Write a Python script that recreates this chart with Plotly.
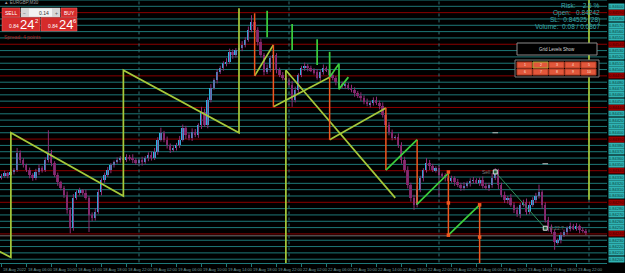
import plotly.graph_objects as go

# ---------------- data (prices in points, 1 point = 0.00001) ----------------
PT = 1e-5
first_open_pts = 84330
closes_pts = [
    84332, 84336, 84333, 84338, 84341, 84368, 84357, 84349, 84341, 84333,
    84328, 84338, 84344, 84341, 84357, 84368, 84352, 84333, 84322, 84313,
    84302, 84278, 84249, 84297, 84306, 84309, 84305, 84297, 84270, 84265,
    84275, 84306, 84325, 84333, 84341, 84349, 84354, 84357, 84360, 84357,
    84362, 84360, 84357, 84352, 84357, 84354, 84360, 84365, 84360, 84370,
    84389, 84400, 84389, 84381, 84373, 84376, 84381, 84389, 84408, 84396,
    84392, 84401, 84396, 84412, 84433, 84412, 84452, 84471, 84483, 84496,
    84502, 84510, 84512, 84528, 84523, 84531, 84534, 84539, 84547, 84563,
    84575, 84563, 84544, 84523, 84496, 84502, 84518, 84523, 84499, 84491,
    84487, 84483, 84476, 84452, 84468, 84491, 84502, 84506, 84502, 84499,
    84496, 84487, 84496, 84502, 84499, 84491, 84487, 84480, 84476, 84474,
    84476, 84471, 84468, 84463, 84458, 84455, 84449, 84445, 84447, 84452,
    84447, 84442, 84428, 84412, 84401, 84392, 84393, 84381, 84357, 84341,
    84317, 84297, 84286, 84309, 84328, 84341, 84352, 84347, 84341, 84344,
    84333, 84333, 84328, 84325, 84328, 84322, 84317, 84313, 84316, 84320,
    84324, 84325, 84322, 84325, 84316, 84313, 84317, 84328, 84338, 84317,
    84302, 84294, 84297, 84286, 84278, 84271, 84286, 84290, 84275, 84286,
    84294, 84300, 84306, 84286, 84262, 84249, 84243, 84227, 84230, 84238,
    84243, 84249, 84252, 84249, 84252, 84246, 84245, 84242,
]
up_wick_pts = [
    3, 4, 2, 5, 3, 8, 4, 3, 2, 4,
    3, 5, 6, 3, 4, 36, 5, 3, 4, 2,
    3, 5, 4, 6, 3, 4, 2, 5, 3, 4,
    6, 5, 3, 4, 5, 3, 2, 4, 3, 5,
    4, 3, 6, 3, 2, 5, 3, 4, 5, 6,
    4, 8, 3, 5, 2, 4, 3, 6, 5, 3,
    4, 6, 5, 3, 8, 5, 4, 6, 3, 5,
    4, 3, 6, 5, 4, 3, 5, 6, 4, 5,
    11, 6, 4, 5, 3, 6, 4, 5, 3, 4,
    5, 3, 4, 6, 5, 3, 4, 5, 3, 4,
    3, 5, 4, 6, 3, 4, 5, 3, 4, 5,
    4, 3, 5, 4, 3, 6, 4, 5, 3, 4,
    5, 4, 6, 3, 5, 4, 3, 6, 4, 5,
    6, 4, 5, 7, 4, 3, 8, 5, 4, 3,
    5, 4, 3, 6, 4, 3, 5, 4, 6, 3,
    4, 5, 3, 4, 6, 5, 4, 8, 6, 5,
    4, 5, 3, 6, 4, 5, 3, 4, 6, 5,
    4, 5, 12, 3, 4, 5, 6, 4, 3, 5,
    4, 3, 6, 4, 5, 3, 4, 3,
]
dn_wick_pts = [
    4, 3, 5, 2, 4, 3, 5, 4, 3, 5,
    4, 3, 5, 4, 3, 4, 5, 3, 6, 4,
    5, 6, 8, 4, 3, 5, 4, 3, 27, 5,
    4, 3, 5, 4, 3, 5, 4, 3, 4, 5,
    3, 4, 5, 3, 4, 6, 3, 5, 4, 3,
    5, 3, 4, 6, 5, 3, 4, 5, 3, 6,
    4, 5, 3, 4, 6, 3, 5, 4, 3, 5,
    3, 4, 5, 3, 6, 4, 3, 5, 4, 3,
    4, 5, 6, 4, 5, 3, 6, 4, 5, 3,
    4, 5, 3, 11, 4, 5, 3, 4, 5, 3,
    4, 3, 5, 4, 3, 6, 4, 5, 3, 4,
    5, 3, 4, 6, 3, 5, 4, 3, 5, 4,
    3, 5, 4, 6, 5, 4, 3, 5, 6, 4,
    5, 6, 8, 4, 3, 5, 4, 6, 3, 4,
    35, 4, 5, 3, 4, 6, 3, 5, 4, 3,
    5, 4, 3, 6, 4, 3, 5, 4, 3, 6,
    4, 5, 6, 3, 5, 4, 6, 3, 5, 4,
    3, 5, 4, 6, 4, 5, 3, 12, 4, 5,
    3, 4, 5, 3, 4, 5, 3, 4,
]

grid_levels_pts = [
    84200, 84210, 84220, 84230, 84240, 84250, 84260, 84270, 84280, 84290,
    84300, 84310, 84320, 84330, 84340, 84350, 84360, 84370, 84380, 84390,
    84400, 84410, 84420, 84430, 84440, 84450, 84460, 84470, 84480, 84490,
    84500, 84510, 84520, 84530, 84540, 84550, 84560, 84570, 84580, 84590,
    84600, 84610,
]
time_labels = [
    "18 Aug 2022", "18 Aug 06:00", "18 Aug 10:00", "18 Aug 14:00", "18 Aug 18:00", "18 Aug 22:00",
    "19 Aug 02:00", "19 Aug 06:00", "19 Aug 10:00", "19 Aug 14:00", "19 Aug 18:00", "19 Aug 22:00",
    "22 Aug 02:00", "22 Aug 06:00", "22 Aug 10:00", "22 Aug 14:00", "22 Aug 18:00", "22 Aug 22:00",
    "23 Aug 02:00", "23 Aug 06:00", "23 Aug 10:00", "23 Aug 14:00", "23 Aug 18:00", "23 Aug 22:00",
]
label_bars = [0, 8, 16, 24, 32, 40, 48, 56, 64, 72, 80, 88,
              96, 104, 112, 120, 128, 136, 144, 152, 160, 168, 176, 184]
day_sep_bars = [44, 92, 140, 188]

# zigzag / channel indicator segments (bar index, price points)
yellow_x = [-1, 3, 3, 39, 39, 76, 76, None, 81, 87, None, 87, 105, None, 105, 123, None,
            91, 126, None, 91, 91, None, 188, 188]
yellow_p = [84213, 84203, 84400, 84300, 84499, 84400, 84597, None, 84490, 84539, None, 84441, 84488, None,
            84389, 84439, None, 84499, 84297, None, 84499, 84100, None, 84615, 84294]
green_x = [105, 108, 108, 111, None, 123, 133, None, 133, 143, None, 143, 153, None,
           85, 85, None, 93, 93, None, 101, 101, None, 105, 105]
green_p = [84488, 84509, 84469, 84488, None, 84341, 84389, None, 84287, 84336, None, 84238, 84286, None,
           84593, 84551, None, 84572, 84531, None, 84548, 84507, None, 84528, 84488]
orange_x = [81, 81, None, 87, 87, None, 105, 105, None, 123, 123, None, 133, 133, None,
            143, 143, None, 153, 153]
orange_p = [84589, 84490, None, 84539, 84441, None, 84488, 84389, None, 84439, 84341, None,
            84389, 84287, None, 84336, 84238, None, 84286, 84100]
orange_mark_x = [143, 143, 143, 153, 153]
orange_mark_p = [84338, 84289, 84238, 84286, 84235]
sell_x = [158, 174]
sell_p = [84338, 84249]
dash_x = [158, 174]
dash_p = [84400, 84351]
bid_line_pts = 84237

info_lines = ["Risk:    2.5 %", "Open:   0.84242", "SL:  0.84525 (28)", "Volume:  0.08 / 0.0867"]

# ---------------- geometry ----------------
W, H = 625, 273
ML, MR, MT, MB = 0, 18, 0, 10
PW, PH = W - ML - MR, H - MT - MB


def X(px):
    return px / PW


def Y(py):
    return 1 - py / PH


FONT = "Liberation Sans, Arial, sans-serif"
TEAL = "#1d7878"
RED = "#8a0000"

n = len(closes_pts)
bars = list(range(n))
opens_pts = [first_open_pts] + closes_pts[:-1]
highs = [max(o, c) + u for o, c, u in zip(opens_pts, closes_pts, up_wick_pts)]
lows = [min(o, c) - d for o, c, d in zip(opens_pts, closes_pts, dn_wick_pts)]

fig = go.Figure()

# wicks
wx, wy = [], []
for i, hi, lo in zip(bars, highs, lows):
    wx += [i, i, None]
    wy += [lo * PT, hi * PT, None]
fig.add_trace(go.Scatter(x=wx, y=wy, mode="lines", line=dict(color="#8e2c74", width=1),
                         hoverinfo="skip"))
# bodies
body_base = [min(o, c) * PT for o, c in zip(opens_pts, closes_pts)]
body_h = [max(abs(c - o), 0.8) * PT for o, c in zip(opens_pts, closes_pts)]
body_col = ["#2bb2e4" if c > o else "#7a2466" for o, c in zip(opens_pts, closes_pts)]
fig.add_trace(go.Bar(x=bars, y=body_h, base=body_base, width=0.62,
                     marker=dict(color=body_col, line=dict(width=0)), hoverinfo="skip"))


def pts(lst):
    return [None if v is None else v * PT for v in lst]


# day separators
sx, sy = [], []
for b in day_sep_bars:
    sx += [b, b, None]
    sy += [0.84100, 0.84700, None]
fig.add_trace(go.Scatter(x=sx, y=sy, mode="lines", line=dict(color="#2f6f72", width=1, dash="dot"),
                         hoverinfo="skip"))

fig.add_trace(go.Scatter(x=yellow_x, y=pts(yellow_p), mode="lines",
                         line=dict(color="#a6c93a", width=1.7), hoverinfo="skip"))
fig.add_trace(go.Scatter(x=orange_x, y=pts(orange_p), mode="lines",
                         line=dict(color="#f2561e", width=1.5), hoverinfo="skip"))
fig.add_trace(go.Scatter(x=green_x, y=pts(green_p), mode="lines",
                         line=dict(color="#3ccf3c", width=1.7), hoverinfo="skip"))
fig.add_trace(go.Scatter(x=orange_mark_x, y=pts(orange_mark_p), mode="markers",
                         marker=dict(symbol="square", size=3.5, color="#f2561e"), hoverinfo="skip"))
fig.add_trace(go.Scatter(x=sell_x, y=pts(sell_p), mode="lines+markers",
                         line=dict(color="#2f8f5a", width=1),
                         marker=dict(symbol="square", size=4, color="#1f5f3a",
                                     line=dict(color="#e0e0e0", width=1)), hoverinfo="skip"))
fig.add_trace(go.Scatter(x=dash_x, y=pts(dash_p), mode="markers",
                         marker=dict(symbol="line-ew", size=4, line=dict(color="#bbbbbb", width=1)),
                         hoverinfo="skip"))

shapes = []
annos = []
# grid levels + right price labels
for p in grid_levels_pts:
    is_red = (p % 50) == 40
    shapes.append(dict(type="line", xref="paper", x0=0, x1=1, yref="y", y0=p * PT, y1=p * PT,
                       line=dict(color=RED if is_red else TEAL, width=1), layer="below"))
    annos.append(dict(xref="paper", x=1, xanchor="left", xshift=1, yref="y", y=p * PT,
                      yanchor="middle", text=f"{p * PT:.5f}", showarrow=False,
                      font=dict(size=4, color="#3a0000" if is_red else "#083c3c", family=FONT),
                      bgcolor="#9b0000" if is_red else "#2fb3b3", borderpad=0))
shapes.append(dict(type="line", xref="paper", x0=0, x1=1, yref="y", y0=bid_line_pts * PT,
                   y1=bid_line_pts * PT, line=dict(color="#6e6e6e", width=1), layer="below"))

# time labels
for b, t in zip(label_bars, time_labels):
    annos.append(dict(xref="x", x=b, xanchor="left", xshift=-0.5, yref="paper", y=0, yanchor="top",
                      yshift=-1.5, text=t, showarrow=False,
                      font=dict(size=4.1, color="#6f9c9c", family=FONT)))

# text on trade line
annos.append(dict(xref="x", x=sell_x[0], xanchor="right", xshift=-3, yref="y", y=sell_p[0] * PT,
                  yanchor="middle", text="Sell", showarrow=False,
                  font=dict(size=5, color="#7a7a7a", family=FONT)))
annos.append(dict(xref="x", x=sell_x[1], xanchor="left", xshift=3, yref="y", y=sell_p[1] * PT,
                  yanchor="middle", text="0.22.7", showarrow=False,
                  font=dict(size=5, color="#6a6a6a", family=FONT)))

# top-left trading panel
RBTN = "#d52b2b"
shapes += [
    dict(type="rect", xref="paper", yref="paper", x0=X(2), x1=X(20), y0=Y(17), y1=Y(8),
         fillcolor=RBTN, line=dict(color="#f06a6a", width=0.5), layer="above"),
    dict(type="rect", xref="paper", yref="paper", x0=X(21), x1=X(60), y0=Y(17), y1=Y(8),
         fillcolor="#f2f2f2", line=dict(color="#bbbbbb", width=0.5), layer="above"),
    dict(type="rect", xref="paper", yref="paper", x0=X(21), x1=X(29), y0=Y(17), y1=Y(8),
         fillcolor="#d6d6d6", line=dict(width=0), layer="above"),
    dict(type="rect", xref="paper", yref="paper", x0=X(52), x1=X(60), y0=Y(17), y1=Y(8),
         fillcolor="#d6d6d6", line=dict(width=0), layer="above"),
    dict(type="rect", xref="paper", yref="paper", x0=X(61), x1=X(77), y0=Y(17), y1=Y(8),
         fillcolor=RBTN, line=dict(color="#f06a6a", width=0.5), layer="above"),
    dict(type="rect", xref="paper", yref="paper", x0=X(2), x1=X(40), y0=Y(31), y1=Y(17.5),
         fillcolor=RBTN, line=dict(color="#f06a6a", width=0.5), layer="above"),
    dict(type="rect", xref="paper", yref="paper", x0=X(41), x1=X(77), y0=Y(31), y1=Y(17.5),
         fillcolor=RBTN, line=dict(color="#f06a6a", width=0.5), layer="above"),
]


def txt(px, py, s, size, color, anchor="left", bold=False):
    annos.append(dict(xref="paper", yref="paper", x=X(px), y=Y(py), xanchor=anchor, yanchor="middle",
                      text=f"<b>{s}</b>" if bold else s, showarrow=False,
                      font=dict(size=size, color=color, family=FONT)))


txt(2, 3, "▲ EURGBP,M30", 4.5, "#9a9a9a")
txt(11, 12.5, "SELL", 5, "#ffffff", "center")
txt(25, 12.5, "−", 5, "#555555", "center")
txt(51, 12.5, "0.14", 5, "#333333", "right")
txt(56, 12.5, "+", 5, "#555555", "center")
txt(69, 12.5, "BUY", 5, "#ffffff", "center")
txt(7, 25.5, "0.84", 5, "#ffffff")
txt(18, 24, "24", 13, "#ffffff")
txt(33, 20.5, "2", 6, "#ffffff")
txt(46, 25.5, "0.84", 5, "#ffffff")
txt(57, 24, "24", 13, "#ffffff")
txt(71, 20.5, "6", 6, "#ffffff")
txt(2, 36.5, "Spread: 4 points", 5, "#b01e1e")

# top-right info
for k, s in enumerate(info_lines):
    txt(602, 6 + 7 * k, s, 6.5, "#3aa9a9", "right")

# Grid Levels Show button and level buttons panel
shapes += [
    dict(type="rect", xref="paper", yref="paper", x0=X(517), x1=X(597), y0=Y(55), y1=Y(43),
         fillcolor="#000000", line=dict(color="#8a8a8a", width=1), layer="above"),
    dict(type="rect", xref="paper", yref="paper", x0=X(515), x1=X(599), y0=Y(77), y1=Y(60),
         fillcolor="#050505", line=dict(color="#7a7a7a", width=1), layer="above"),
]
txt(557, 49, "Grid Levels Show", 4.5, "#d8d8d8", "center")
col_x = [517, 533, 549, 565, 581]
row_y = [62, 69]
num = 1
for r in row_y:
    for cx in col_x:
        shapes.append(dict(type="rect", xref="paper", yref="paper", x0=X(cx), x1=X(cx + 15),
                           y0=Y(r + 6), y1=Y(r), fillcolor="#e2573b",
                           line=dict(color="#a8a830" if num == 2 else "#b03a22", width=1),
                           layer="above"))
        txt(cx + 7.5, r + 3, str(num), 3.5, "#ffe0d8", "center")
        num += 1

fig.update_layout(
    width=W, height=H,
    margin=dict(l=ML, r=MR, t=MT, b=MB, pad=0),
    paper_bgcolor="#000000", plot_bgcolor="#000000",
    showlegend=False, bargap=0,
    shapes=shapes, annotations=annos,
    xaxis=dict(range=[-0.48, 193.76], showgrid=False, zeroline=False,
               tickvals=label_bars, showticklabels=False, ticks="outside", ticklen=3,
               tickcolor=TEAL, showline=True, linecolor=TEAL, linewidth=1, fixedrange=True),
    yaxis=dict(range=[0.84194, 0.84610], showgrid=False, zeroline=False, showticklabels=False,
               side="right", fixedrange=True),
)

fig.write_html("out.html")
